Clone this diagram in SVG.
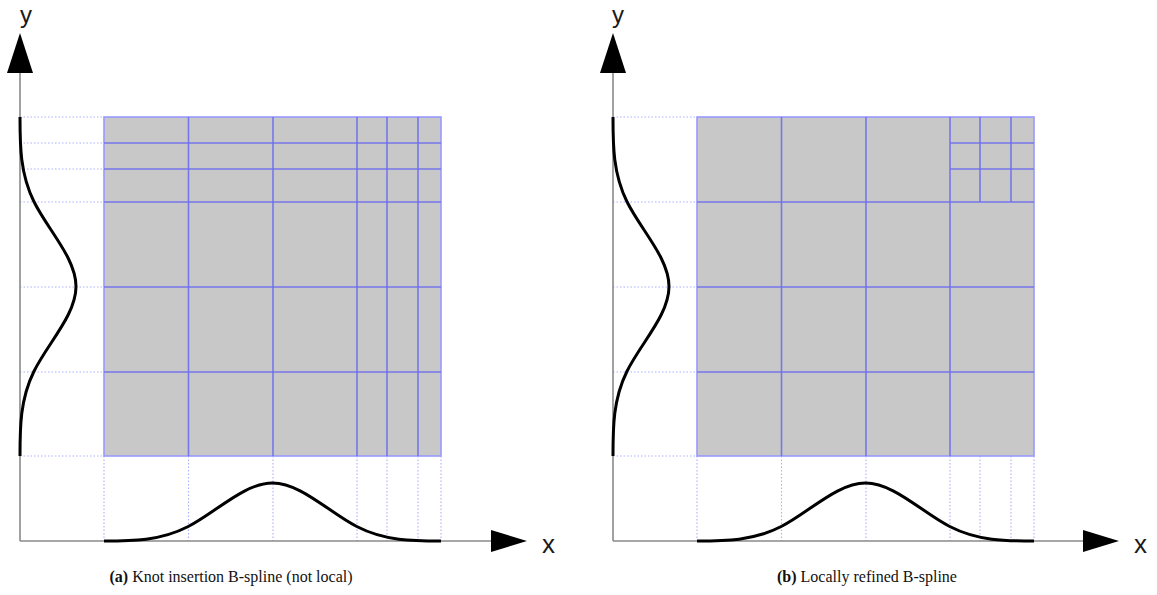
<svg xmlns="http://www.w3.org/2000/svg" width="1157" height="595" viewBox="0 0 1157 595">
<defs>
<style>
.axis{stroke:#8a8a8a;stroke-width:1.6;fill:none}
.head{fill:#000}
.cell{fill:#c8c8c8;stroke:#9a9aff;stroke-width:1.6}
.grid{stroke:#6e6ef0;stroke-width:1.6;fill:none;stroke-opacity:0.9}
.dot{stroke:#aab0ff;stroke-width:1.1;stroke-dasharray:1.5 2;fill:none}
.curve{stroke:#000;stroke-width:3;fill:none;stroke-linecap:butt}
.lbl{font-family:"Liberation Sans",Arial,sans-serif;font-size:26px;fill:#1a1a1a}
.ylbl{font-family:"Liberation Sans",Arial,sans-serif;font-size:24px;fill:#1a1a1a}
.cap{font-family:"Liberation Serif","DejaVu Serif",serif;font-size:16px;fill:#111}
</style>
</defs>

<g id="panel-a">
  <g id="a-dotted">
    <path class="dot" d="M20,117H104M20,143H104M20,169H104M20,202H104M20,287H104M20,372H104M20,456H104"/>
    <path class="dot" d="M104,456V541M188.5,456V541M273,456V541M357,456V541M387,456V541M418,456V541M441,456V541"/>
  </g>
  <g id="a-mesh">
    <rect class="cell" x="104" y="117" width="337" height="339"/>
    <path class="grid" d="M188.5,117V456M273,117V456M357,117V456M387,117V456M418,117V456"/>
    <path class="grid" d="M104,143H441M104,169H441M104,202H441M104,287H441M104,372H441"/>
  </g>
  <g id="a-axes">
    <path class="axis" d="M20,541V70M20,541H494"/>
    <polygon class="head" points="20,33 7,73 33,73"/>
    <polygon class="head" points="527,541 491,530 491,552"/>
    <text class="ylbl" x="20" y="23">y</text>
    <text class="lbl" x="542" y="553">x</text>
  </g>
  <g id="a-curves">
    <path class="curve" d="M20,456C20,427.75 20,399.5 34,371.25C48,343 76,314.75 76,286.5C76,258.25 48,230 34,201.75C20,173.5 20,145.25 20,117"/>
    <path class="curve" d="M104,541C132.08,541 160.17,541 188.25,526.5C216.33,512 244.42,483 272.5,483C300.58,483 328.67,512 356.75,526.5C384.83,541 412.92,541 441,541"/>
  </g>
  <text class="cap" x="231" y="582" text-anchor="middle"><tspan font-weight="bold">(a)</tspan> Knot insertion B-spline (not local)</text>
</g>

<g id="panel-b">
  <g id="b-dotted">
    <path class="dot" d="M613,117H697M613,202H697M613,287H697M613,372H697M613,456H697"/>
    <path class="dot" d="M697,456V541M781.5,456V541M866,456V541M950,456V541M980,456V541M1011,456V541M1034,456V541"/>
  </g>
  <g id="b-mesh">
    <rect class="cell" x="697" y="117" width="337" height="339"/>
    <path class="grid" d="M781.5,117V456M866,117V456M950,117V456M980,117V202M1011,117V202"/>
    <path class="grid" d="M697,202H1034M697,287H1034M697,372H1034M950,143H1034M950,169H1034"/>
  </g>
  <g id="b-axes">
    <path class="axis" d="M613,541V70M613,541H1086"/>
    <polygon class="head" points="613,33 600,73 626,73"/>
    <polygon class="head" points="1119,541 1083,530 1083,552"/>
    <text class="ylbl" x="612" y="23">y</text>
    <text class="lbl" x="1134" y="553">x</text>
  </g>
  <g id="b-curves">
    <path class="curve" d="M613,456C613,427.75 613,399.5 627,371.25C641,343 669,314.75 669,286.5C669,258.25 641,230 627,201.75C613,173.5 613,145.25 613,117"/>
    <path class="curve" d="M697,541C725.08,541 753.17,541 781.25,526.5C809.33,512 837.42,483 865.5,483C893.58,483 921.67,512 949.75,526.5C977.83,541 1005.92,541 1034,541"/>
  </g>
  <text class="cap" x="867" y="582" text-anchor="middle"><tspan font-weight="bold">(b)</tspan> Locally refined B-spline</text>
</g>
</svg>
